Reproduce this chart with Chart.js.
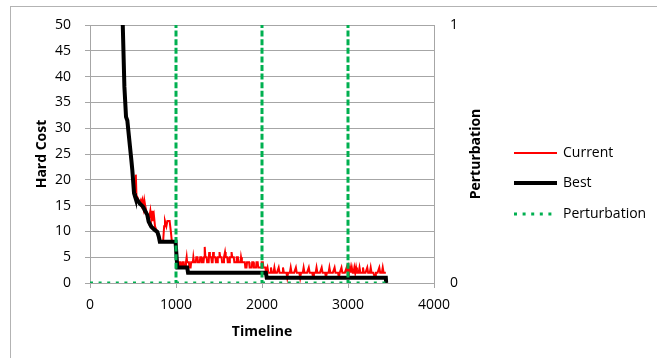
<!DOCTYPE html>
<html>
<head>
<meta charset="utf-8">
<script src="https://cdn.jsdelivr.net/npm/chart.js@4.4.0/dist/chart.umd.min.js"></script>
<style>
  html, body { margin: 0; padding: 0; background: #fff; }
</style>
</head>
<body>
<canvas id="chart" width="657" height="358"></canvas>
<script>
// Hard cost of the current and best solution along the search timeline
const currentTime = [
  360, 381, 400, 419, 434, 465, 481, 492, 512, 528, 533, 540, 552, 565, 578, 590, 600, 610, 622, 632,
  642, 654, 666, 680, 692, 702, 712, 722, 732, 744, 756, 770, 785, 798, 810, 850, 862, 872, 888, 900,
  926, 940, 952, 990, 1003,
  1012, 1030, 1036, 1050, 1056, 1070, 1076, 1090, 1096, 1110, 1116, 1124, 1130, 1150, 1156, 1170, 1176, 1196, 1202, 1210,
  1230, 1236, 1250, 1256, 1276, 1282, 1296, 1302, 1320, 1326, 1334, 1342, 1356, 1362, 1380, 1386, 1394, 1410, 1416, 1426,
  1432, 1440, 1458, 1464, 1480, 1486, 1500, 1506, 1514, 1530, 1536, 1552, 1558, 1570, 1578, 1596, 1602, 1620, 1626, 1640,
  1646, 1654, 1672, 1678, 1700, 1706, 1720, 1726, 1750, 1756, 1766, 1800, 1806, 1820, 1826, 1850, 1856, 1880, 1886, 1900,
  1906, 1930, 1936, 1950, 1956, 1990, 1996, 2010, 2016, 2040, 2046,
  2064, 2074, 2094, 2104, 2114, 2134, 2144, 2154, 2174, 2194,
  2204, 2234, 2244, 2254, 2284, 2294, 2304, 2324, 2334, 2344, 2374, 2394, 2404, 2434, 2444, 2454, 2474, 2484, 2494, 2524,
  2544, 2554, 2584, 2594, 2604, 2624, 2634, 2644, 2674, 2694, 2704, 2734, 2744, 2754, 2774, 2784, 2794, 2824, 2844, 2854,
  2884, 2894, 2904, 2924, 2934, 2964, 2984, 2994, 3004, 3014, 3024, 3034, 3044, 3054, 3064, 3074, 3084, 3094, 3104, 3124,
  3134, 3144, 3164, 3174, 3184, 3204, 3224, 3234, 3254, 3264, 3274, 3294, 3314, 3324, 3344, 3364, 3374, 3394, 3404, 3414,
  3440
];
const currentCost = [
  90, 50, 38, 32.2, 31.5, 26.4, 23.8, 21.9, 17.4, 17, 21, 17, 16.6, 16, 15.5, 16, 15.2, 16, 14.6, 16,
  15, 14, 13.2, 12, 13, 14, 12.5, 14, 12, 13, 11, 10.3, 10, 9, 8, 8, 11, 12, 11, 12,
  12, 10, 8, 8, 6,
  3, 3, 4, 4, 3, 3, 4, 4, 3, 3, 4, 5, 4, 4, 3, 3, 4, 4, 5, 4,
  4, 5, 5, 4, 4, 5, 5, 4, 4, 5, 7, 5, 5, 4, 4, 6, 5, 5, 4, 4,
  6, 5, 5, 4, 4, 5, 5, 6, 5, 5, 4, 4, 5, 6, 5, 5, 4, 4, 5, 5,
  6, 5, 5, 4, 4, 5, 5, 4, 4, 5, 4, 4, 3, 3, 4, 4, 3, 3, 4, 4,
  3, 3, 4, 4, 3, 3, 4, 4, 3, 3, 2,
  3, 2, 2, 3, 2, 2, 3, 2, 2, 3,
  2, 2, 3, 2, 2, 1, 2, 2, 3, 2, 2, 3, 2, 2, 1, 2, 2, 3, 2, 2,
  3, 2, 2, 1, 2, 2, 3, 2, 2, 3, 2, 2, 1, 2, 2, 3, 2, 2, 3, 2,
  2, 1, 2, 3, 2, 2, 3, 2, 3, 2, 3, 2, 3, 2, 2, 3, 2, 3, 2, 2,
  3, 2, 2, 3, 2, 2, 3, 2, 2, 3, 2, 2, 1, 2, 2, 3, 2, 2, 3, 2,
  2
];
const bestTime = [360, 381, 400, 419, 434, 465, 481, 492, 512, 523, 539, 577, 616, 640, 666, 682, 713, 752, 783, 800,
  812, 995, 1015, 1130, 1140, 2045, 2055, 3440, 3444];
const bestCost = [90, 50, 38, 32.2, 31.5, 26.4, 23.8, 21.9, 17.4, 16.8, 16.4, 15.4, 14.8, 14, 13.2, 11.9, 10.9, 10.3, 9.9, 9,
  8, 8, 3, 3, 2, 2, 1, 1, 0];
// perturbation flag (right axis): raised at each restart
const perturbTime = [0, 1000, 1000, 1000, 2000, 2000, 2000, 3000, 3000, 3000, 3440];
const perturbLevel = [0, 0, 1, 0, 0, 1, 0, 0, 1, 0, 0];

const costTicks = [0, 5, 10, 15, 20, 25, 30, 35, 40, 45, 50];
const timeTicks = [0, 1000, 2000, 3000, 4000];
const perturbTicks = [0, 1];

const FONT = '"Open Sans", "DejaVu Sans", sans-serif';
const GRID = '#a6a6a6';

function points(xs, ys) {
  return xs.map((x, i) => ({ x: x, y: ys[i] }));
}
function fixedTicks(list) {
  return scale => { scale.ticks = list.map(v => ({ value: v })); };
}

// frame, right axis title and the legend on the right
const decor = {
  id: 'decor',
  beforeDraw(chart) {
    const ctx = chart.ctx;
    ctx.save();
    ctx.fillStyle = '#fff';
    ctx.fillRect(0, 0, chart.width, chart.height);
    ctx.strokeStyle = '#b3b3b3';
    ctx.lineWidth = 1;
    ctx.strokeRect(10.5, 6.5, chart.width + 20, chart.height + 20);
    ctx.restore();
  },
  afterDraw(chart) {
    const ctx = chart.ctx;
    const area = chart.chartArea;
    ctx.save();
    ctx.font = 'bold 14px ' + FONT;
    ctx.fillStyle = '#000';
    ctx.textAlign = 'center';
    ctx.textBaseline = 'middle';
    ctx.translate(476, (area.top + area.bottom) / 2);
    ctx.rotate(-Math.PI / 2);
    ctx.fillText('Perturbation', 0, 0);
    ctx.restore();

    const rows = [153, 183, 214];
    chart.data.datasets.forEach((ds, i) => {
      const y = rows[i];
      ctx.save();
      ctx.strokeStyle = ds.borderColor;
      ctx.lineWidth = ds.borderWidth;
      ctx.setLineDash(ds.borderDash || []);
      ctx.beginPath();
      ctx.moveTo(514, y);
      ctx.lineTo(557, y);
      ctx.stroke();
      ctx.font = '14px ' + FONT;
      ctx.fillStyle = '#000';
      ctx.textAlign = 'left';
      ctx.textBaseline = 'middle';
      ctx.fillText(ds.label, 563, y);
      ctx.restore();
    });
  }
};

new Chart(document.getElementById('chart'), {
  type: 'line',
  data: {
    datasets: [{
      label: 'Current',
      data: points(currentTime, currentCost),
      borderColor: '#ff0000',
      borderWidth: 2,
      pointRadius: 0,
      yAxisID: 'y',
      order: 3
    }, {
      label: 'Best',
      data: points(bestTime, bestCost),
      borderColor: '#000000',
      borderWidth: 4,
      pointRadius: 0,
      yAxisID: 'y',
      order: 2
    }, {
      label: 'Perturbation',
      data: points(perturbTime, perturbLevel),
      borderColor: '#00b050',
      borderWidth: 3,
      borderDash: [3, 5.6],
      pointRadius: 0,
      yAxisID: 'y1',
      order: 1
    }]
  },
  options: {
    responsive: false,
    animation: false,
    layout: { padding: { top: 25, left: 0, right: 0, bottom: 0 } },
    plugins: {
      legend: { display: false },
      tooltip: { enabled: false }
    },
    scales: {
      x: {
        type: 'linear',
        position: 'bottom',
        min: 0,
        max: 4000,
        afterBuildTicks: fixedTicks(timeTicks),
        afterFit: s => { s.height = 75; },
        grid: { drawOnChartArea: false, tickLength: 5, color: GRID },
        border: { color: GRID },
        ticks: { color: '#000', font: { family: FONT, size: 14 }, padding: 9, maxRotation: 0, callback: v => String(v) },
        title: { display: true, text: 'Timeline', color: '#000', font: { family: FONT, size: 14, weight: 'bold' }, padding: 18 }
      },
      y: {
        position: 'left',
        min: 0,
        max: 50,
        afterBuildTicks: fixedTicks(costTicks),
        afterFit: s => { s.width = 90; },
        grid: { tickLength: 5, color: GRID },
        border: { color: GRID },
        ticks: { color: '#000', font: { family: FONT, size: 14 }, padding: 14 },
        title: { display: true, text: 'Hard Cost', color: '#000', font: { family: FONT, size: 14, weight: 'bold' }, padding: 34 }
      },
      y1: {
        position: 'right',
        min: 0,
        max: 1,
        afterBuildTicks: fixedTicks(perturbTicks),
        afterFit: s => { s.width = 223; },
        grid: { display: false, drawTicks: false },
        border: { color: GRID },
        ticks: { color: '#000', font: { family: FONT, size: 14 }, padding: 16 }
      }
    }
  },
  plugins: [decor]
});
</script>
</body>
</html>
